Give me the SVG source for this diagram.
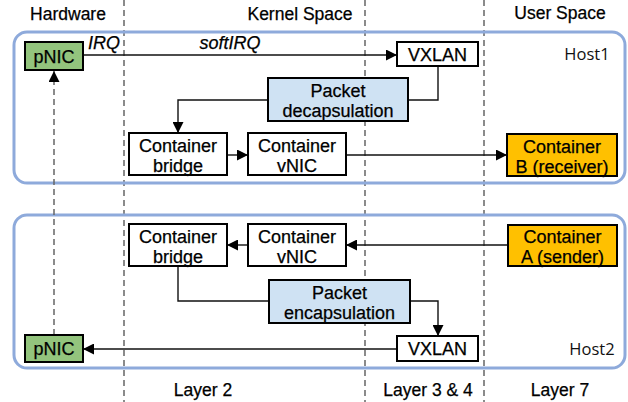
<svg xmlns="http://www.w3.org/2000/svg" width="628" height="402" viewBox="0 0 628 402">
<style>
text{font-family:"Liberation Sans",Arial,sans-serif;font-size:18px;fill:#000;text-anchor:middle;stroke:#000;stroke-width:0.25}
.hdr{font-size:17.5px}
.host{font-family:"Open Sans","Liberation Sans",sans-serif;font-size:16.5px;fill:#111;stroke:none}
.it{font-style:italic}
.box{stroke:#000;stroke-width:2}
.w{fill:#fff}
.g{fill:#93C47D}
.b{fill:#CFE2F3}
.o{fill:#FFC000}
.hostbox{fill:none;stroke:#8EAADB;stroke-width:3}
.dash{stroke:#666;stroke-width:1.5;stroke-dasharray:6 4;fill:none}
.c{stroke:#111;stroke-width:1.4;fill:none}
</style>
<defs>
<marker id="ah" viewBox="0 0 10 10" refX="10" refY="5" markerWidth="11" markerHeight="11" markerUnits="userSpaceOnUse" orient="auto">
<path d="M0,0 L10,5 L0,10 z" fill="#000"/>
</marker>
</defs>

<g id="layers">
<line class="dash" x1="124" y1="0" x2="124" y2="402"/>
<line class="dash" x1="365" y1="0" x2="365" y2="402"/>
<line class="dash" x1="484" y1="0" x2="484" y2="402"/>
<text class="hdr" x="68" y="20">Hardware</text>
<text class="hdr" x="300" y="20">Kernel Space</text>
<text class="hdr" x="560" y="19">User Space</text>
<text class="hdr" x="203" y="396">Layer 2</text>
<text class="hdr" x="428" y="396">Layer 3 &amp; 4</text>
<text class="hdr" x="560" y="396">Layer 7</text>
</g>

<g id="host1">
<rect class="hostbox" x="14" y="32" width="611" height="151" rx="13"/>
<text class="host" x="587" y="60">Host1</text>
</g>
<g id="host2">
<rect class="hostbox" x="14" y="215" width="611" height="153" rx="13"/>
<text class="host" x="592" y="355">Host2</text>
</g>

<g id="connectors">
<line class="dash" x1="54" y1="335" x2="54" y2="71" marker-end="url(#ah)"/>
<line class="c" x1="83" y1="55" x2="397" y2="55" marker-end="url(#ah)"/>
<polyline class="c" points="438,66 438,100 408,100"/>
<polyline class="c" points="268,100 178,100 178,133" marker-end="url(#ah)"/>
<line class="c" x1="227" y1="155" x2="248" y2="155" marker-end="url(#ah)"/>
<line class="c" x1="346" y1="155" x2="507" y2="155" marker-end="url(#ah)"/>
<line class="c" x1="508" y1="245" x2="346" y2="245" marker-end="url(#ah)"/>
<line class="c" x1="248" y1="245" x2="227" y2="245" marker-end="url(#ah)"/>
<polyline class="c" points="178,266 178,301 269,301"/>
<polyline class="c" points="410,301 438,301 438,336" marker-end="url(#ah)"/>
<line class="c" x1="397" y1="349" x2="83" y2="349" marker-end="url(#ah)"/>
<text class="it" x="104" y="49">IRQ</text>
<text class="it" x="230" y="49">softIRQ</text>
</g>

<g id="pnic1"><rect class="box g" x="25" y="42" width="58" height="28"/><text x="54" y="62.5">pNIC</text></g>
<g id="vxlan1"><rect class="box w" x="397" y="42" width="81" height="24"/><text x="437.5" y="60.5">VXLAN</text></g>
<g id="decap"><rect class="box b" x="268" y="78" width="140" height="43"/><text x="338" y="97">Packet</text><text x="338" y="117">decapsulation</text></g>
<g id="bridge1"><rect class="box w" x="129" y="133" width="98" height="42"/><text x="178" y="152">Container</text><text x="178" y="172">bridge</text></g>
<g id="vnic1"><rect class="box w" x="248" y="133" width="98" height="42"/><text x="297" y="152">Container</text><text x="297" y="172">vNIC</text></g>
<g id="containerB"><rect class="box o" x="507" y="134" width="110" height="42"/><text x="562" y="153">Container</text><text x="562" y="173">B (receiver)</text></g>

<g id="bridge2"><rect class="box w" x="129" y="224" width="98" height="42"/><text x="178" y="243">Container</text><text x="178" y="263">bridge</text></g>
<g id="vnic2"><rect class="box w" x="248" y="224" width="98" height="42"/><text x="297" y="243">Container</text><text x="297" y="263">vNIC</text></g>
<g id="containerA"><rect class="box o" x="508" y="225" width="109" height="41"/><text x="562.5" y="243">Container</text><text x="562.5" y="263">A (sender)</text></g>
<g id="encap"><rect class="box b" x="269" y="280" width="141" height="43"/><text x="339.5" y="299">Packet</text><text x="339.5" y="319">encapsulation</text></g>
<g id="vxlan2"><rect class="box w" x="397" y="336" width="81" height="25"/><text x="437.5" y="355">VXLAN</text></g>
<g id="pnic2"><rect class="box g" x="25" y="335" width="58" height="27"/><text x="54" y="355">pNIC</text></g>
</svg>
